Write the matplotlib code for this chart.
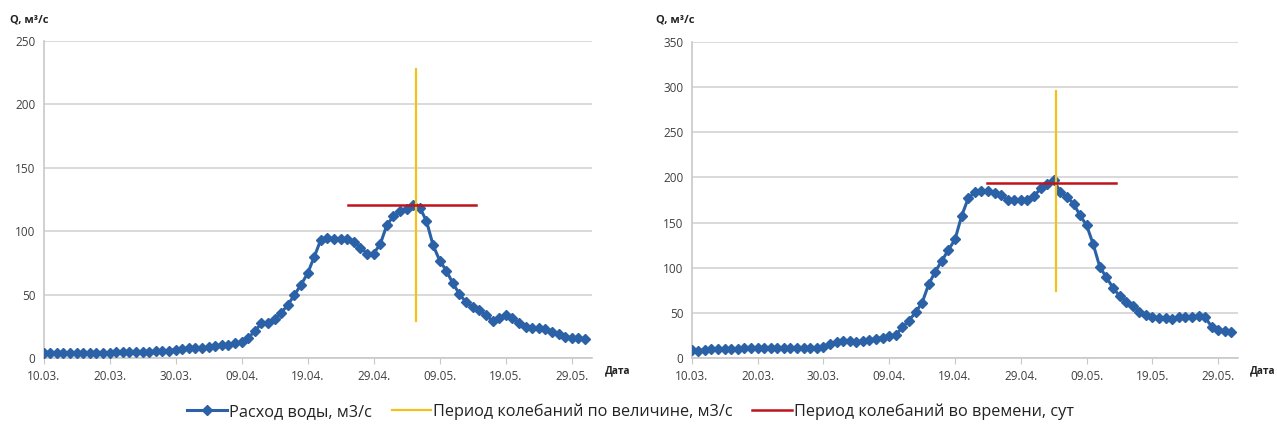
#!/usr/bin/env python3
"""
Draw the spring flood hydrographs for two gauges side by side, with the
amplitude (vertical) and duration (horizontal) oscillation periods marked
around the flood peak.
"""

from __future__ import annotations

import matplotlib

matplotlib.use("Agg")
import matplotlib.pyplot as plt
import numpy as np

plt.rcParams["font.family"] = ["Open Sans", "DejaVu Sans"]

# daily discharge, 10.03 ... 31.05, m3/s
q_left = [
    3.9, 3.9, 3.9, 4.0, 4.0, 4.1, 4.2, 4.3, 4.4, 4.5,
    4.5, 4.6, 4.7, 4.8, 4.9, 5.0, 5.2, 5.4, 5.6, 6.0,
    6.5, 7.0, 7.8, 8.0, 8.2, 8.6, 9.7, 10.7, 10.7, 11.8,
    13.0, 16.0, 21.5, 27.5, 28.0, 30.6, 36.0, 42.0, 50.0, 58.0,
    67.0, 80.0, 93.5, 95.0, 94.0, 94.0, 94.0, 91.6, 87.0, 82.5,
    82.5, 90.0, 105.0, 112.0, 116.0, 117.5, 121.0, 118.6, 108.0, 89.0,
    77.0, 69.0, 59.0, 50.5, 44.0, 40.6, 38.0, 34.0, 29.6, 31.4,
    34.0, 32.0, 28.0, 24.9, 23.6, 23.6, 22.8, 21.0, 19.0, 17.0,
    16.0, 15.7, 15.2,
]
q_right = [
    9.4, 8.6, 9.4, 10.0, 10.5, 10.8, 11.0, 11.0, 11.2, 11.2,
    11.3, 11.3, 11.4, 11.4, 11.5, 11.5, 11.6, 11.6, 11.6, 11.8,
    13.0, 16.0, 17.8, 19.3, 19.3, 18.6, 19.0, 20.4, 21.9, 23.0,
    24.8, 26.0, 34.4, 41.8, 51.0, 61.6, 82.0, 96.0, 108.0, 120.0,
    131.5, 157.5, 176.8, 183.8, 184.5, 184.5, 183.0, 181.0, 175.0, 175.0,
    175.0, 175.0, 179.0, 188.0, 193.0, 197.0, 184.0, 178.6, 171.0, 158.0,
    147.0, 126.0, 101.0, 89.6, 78.0, 69.0, 62.7, 58.0, 51.7, 48.0,
    45.4, 45.0, 44.3, 43.6, 45.4, 45.4, 46.0, 47.0, 45.4, 35.0,
    31.5, 30.0, 29.6,
]

# oscillation periods: vertical (day, q_min, q_max), horizontal (day_from, day_to, q)
amp_left = (56.4, 29.0, 228.0)
dur_left = (46.1, 65.5, 120.4)
amp_right = (55.4, 74.0, 295.0)
dur_right = (44.9, 64.4, 194.4)

date_ticks = [0, 10, 20, 30, 40, 50, 60, 70, 80]
date_labels = ["10.03.", "20.03.", "30.03.", "09.04.", "19.04.",
               "29.04.", "09.05.", "19.05.", "29.05."]

ymax_left, ystep_left = 250, 50
ymax_right, ystep_right = 350, 50

BLUE = "#2b61a6"
YELLOW = "#f2c21b"
RED = "#c0141c"
GRID = "#d3d3d3"
TEXT = "#404040"


def draw_panel(ax, q, amp, dur, ymax, ystep):
    days = np.arange(len(q))
    ax.plot(days, q, color=BLUE, linewidth=2.2, marker="D", markersize=5.5,
            label="Расход воды, м3/с", zorder=3)
    ax.plot([amp[0], amp[0]], [amp[1], amp[2]], color=YELLOW, linewidth=1.6,
            label="Период колебаний по величине, м3/с", zorder=4)
    ax.plot([dur[0], dur[1]], [dur[2], dur[2]], color=RED, linewidth=1.8,
            label="Период колебаний во времени, сут", zorder=4)

    ax.set_xlim(0, 83)
    ax.set_ylim(0, ymax)
    ax.set_yticks(np.arange(0, ymax + 1, ystep))
    ax.set_xticks(date_ticks)
    ax.set_xticklabels(date_labels)
    ax.grid(axis="y", color=GRID, linewidth=1.2)
    ax.set_axisbelow(True)
    for side in ("top", "right"):
        ax.spines[side].set_visible(False)
    for side in ("left", "bottom"):
        ax.spines[side].set_color("#c8c8c8")
        ax.spines[side].set_linewidth(1.2)
    ax.tick_params(axis="y", length=0, pad=6, labelsize=8.5, labelcolor=TEXT)
    ax.tick_params(axis="x", length=4, color="#c8c8c8", pad=4.5, labelsize=8.5,
                   labelcolor=TEXT)


def main() -> int:
    fig = plt.figure(figsize=(12.77, 4.26), dpi=100)
    ax_l = fig.add_axes([0.0342, 0.159, 0.429, 0.745])
    ax_r = fig.add_axes([0.5417, 0.1585, 0.4278, 0.7437])

    draw_panel(ax_l, q_left, amp_left, dur_left, ymax_left, ystep_left)
    draw_panel(ax_r, q_right, amp_right, dur_right, ymax_right, ystep_right)

    # axis captions in the corners
    for x_q, x_d in ((0.008, 0.4735), (0.514, 0.9785)):
        fig.text(x_q, 1 - 20 / 426, "Q, м³/с", fontsize=8, fontweight="bold",
                 color="#222222", va="center", ha="left")
        fig.text(x_d, 1 - 371 / 426, "Дата", fontsize=7.3, fontweight="bold",
                 color="#222222", va="center", ha="left")

    handles, labels = ax_l.get_legend_handles_labels()
    fig.legend(handles, labels, loc="center", bbox_to_anchor=(0.494, 0.034),
               ncol=3, frameon=False, fontsize=11.7, handlelength=2.45,
               handletextpad=0.12, columnspacing=1.2, labelcolor="#222222")

    fig.savefig("out.png", dpi=100)
    plt.close(fig)
    return 0


if __name__ == "__main__":
    raise SystemExit(main())
